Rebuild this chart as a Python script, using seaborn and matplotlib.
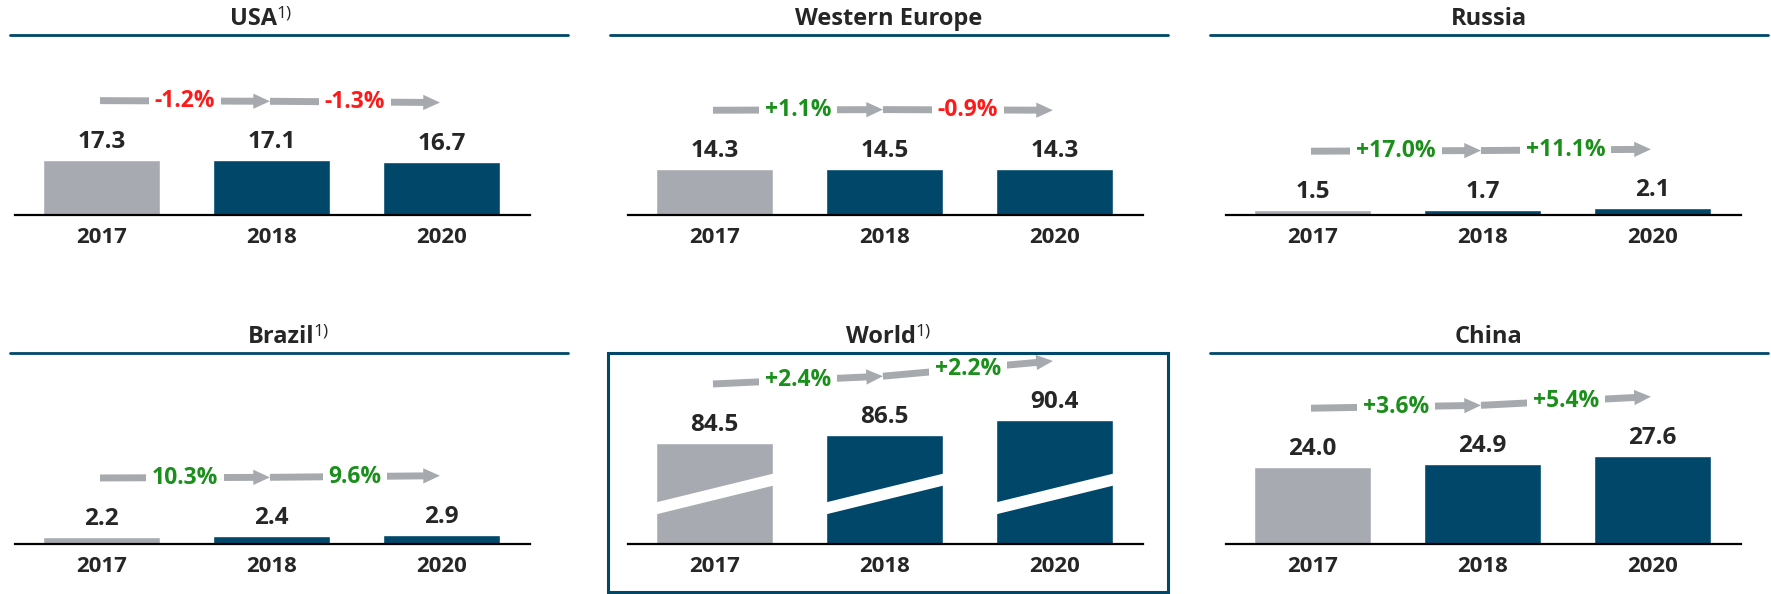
import seaborn as sns
import matplotlib.pyplot as plt
import matplotlib.transforms as mtransforms
from matplotlib.lines import Line2D
from matplotlib.patches import Rectangle, Polygon

# data
years = ["2017", "2018", "2020"]
usa = [17.3, 17.1, 16.7]
western_europe = [14.3, 14.5, 14.3]
russia = [1.5, 1.7, 2.1]
brazil = [2.2, 2.4, 2.9]
world = [84.5, 86.5, 90.4]
china = [24.0, 24.9, 27.6]

usa_growth = ["-1.2%", "-1.3%"]
western_europe_growth = ["+1.1%", "-0.9%"]
russia_growth = ["+17.0%", "+11.1%"]
brazil_growth = ["10.3%", "9.6%"]
world_growth = ["+2.4%", "+2.2%"]
china_growth = ["+3.6%", "+5.4%"]

GRAY = "#A7ABB1"
TEAL = "#00476A"
ARROW = "#A6AAAF"
RED = "#FF1A1A"
GREEN = "#1B8F1B"

sns.set_style("white")
plt.rcParams["font.family"] = ["Open Sans", "DejaVu Sans"]

W, H = 1771, 594
fig = plt.figure(figsize=(W / 100, H / 100), dpi=100)

# layout in pixels: axis left edges, header line spans, row top/bottom
axis_left = [15, 628, 1226]
axis_width = 515
header = [(10, 568), (610, 1168), (1210, 1768)]
rows = [(35, 215), (353, 544)]
PX_PER_UNIT = 3.2

panels = [
    ("USA", True, usa, usa_growth, 0, 0),
    ("Western Europe", False, western_europe, western_europe_growth, 0, 1),
    ("Russia", False, russia, russia_growth, 0, 2),
    ("Brazil", True, brazil, brazil_growth, 1, 0),
    ("World", True, world, world_growth, 1, 1),
    ("China", False, china, china_growth, 1, 2),
]
title_shift = {"USA": -28}

titles = []
for title, sup, vals, growth, r, c in panels:
    top, bottom = rows[r]
    ax = fig.add_axes([axis_left[c] / W, 1 - bottom / H, axis_width / W, (bottom - top) / H])
    sns.barplot(x=years, y=vals, hue=years, palette=[GRAY, TEAL, TEAL], saturation=1,
                width=0.69, legend=False, ax=ax, zorder=2)
    ax.set_xlim(-0.51, 2.52)
    if title == "World":
        ppu = 3.9
        lo = 58.6
    else:
        ppu = PX_PER_UNIT
        lo = 0
    ax.set_ylim(lo, lo + (bottom - top) / ppu)
    ax.set(xlabel="", ylabel="", yticks=[])
    sns.despine(ax=ax, left=True)
    ax.spines["bottom"].set_color("black")
    ax.spines["bottom"].set_linewidth(1.6)
    ax.tick_params(axis="x", length=0, pad=8.5, labelsize=16)
    for lbl in ax.get_xticklabels():
        lbl.set_fontweight("bold")

    # value labels
    for i, v in enumerate(vals):
        ax.annotate(f"{v:.1f}", xy=(i, v), xytext=(0, 12), textcoords="offset pixels",
                    ha="center", va="baseline", fontsize=17.5, fontweight="bold",
                    annotation_clip=False)

    # growth arrows
    lift = mtransforms.offset_copy(ax.transData, fig=fig, x=0, y=59, units="dots")
    for i, g in enumerate(growth):
        x0, x1 = i - 0.01, i + 0.99
        y0, y1 = vals[i], vals[i + 1]
        ax.annotate("", xy=(x1, y1), xytext=(x0, y0), xycoords=lift, textcoords=lift,
                    arrowprops=dict(arrowstyle="simple,head_length=12,head_width=11,tail_width=5",
                                    mutation_scale=1, color=ARROW, lw=0,
                                    shrinkA=0, shrinkB=0),
                    annotation_clip=False)
        ax.text((x0 + x1) / 2, (y0 + y1) / 2, g, transform=lift, ha="center", va="center",
                fontsize=16.5, fontweight="bold", color=RED if g.startswith("-") else GREEN,
                bbox=dict(boxstyle="square,pad=0.25", fc="white", ec="none"),
                clip_on=False, zorder=5)

    # axis break on the World bars
    if title == "World":
        blend = mtransforms.blended_transform_factory(ax.transData, ax.transAxes)
        h = bottom - top
        mid, rise, thick = 50 / h, 30 / h, 12 / h
        for i in range(len(vals)):
            xl, xr = i - 0.36, i + 0.36
            ax.add_patch(Polygon([(xl, mid - rise / 2 - thick / 2), (xr, mid + rise / 2 - thick / 2),
                                  (xr, mid + rise / 2 + thick / 2), (xl, mid - rise / 2 + thick / 2)],
                                 closed=True, transform=blend, fc="white", ec="none", zorder=3))
        fig.add_artist(Rectangle((608 / W, 1 - 592 / H), (1168 - 608) / W, (592 - top) / H,
                                 fill=False, ec=TEAL, lw=2.2, transform=fig.transFigure))
    else:
        hx0, hx1 = header[c]
        fig.add_artist(Line2D([hx0 / W, hx1 / W], [1 - top / H] * 2, color=TEAL, lw=2,
                              transform=fig.transFigure))

    cx = sum(header[c]) / 2 + title_shift.get(title, 0)
    base_y = top - 10
    t = fig.text(cx / W, 1 - base_y / H, title, ha="center", va="baseline",
                 fontsize=17, fontweight="bold")
    s = None
    if sup:
        s = fig.text(cx / W, 1 - (base_y - 8) / H, "1)", ha="left", va="baseline", fontsize=12.5)
    titles.append((t, s, cx))

# centre title + footnote mark together
fig.canvas.draw()
renderer = fig.canvas.get_renderer()
for t, s, cx in titles:
    if s is None:
        continue
    wm = t.get_window_extent(renderer).width
    ws = s.get_window_extent(renderer).width
    left = cx - (wm + ws) / 2
    t.set_ha("left")
    t.set_x(left / W)
    s.set_x((left + wm - 1) / W)

fig.savefig("out.png", dpi=100)
